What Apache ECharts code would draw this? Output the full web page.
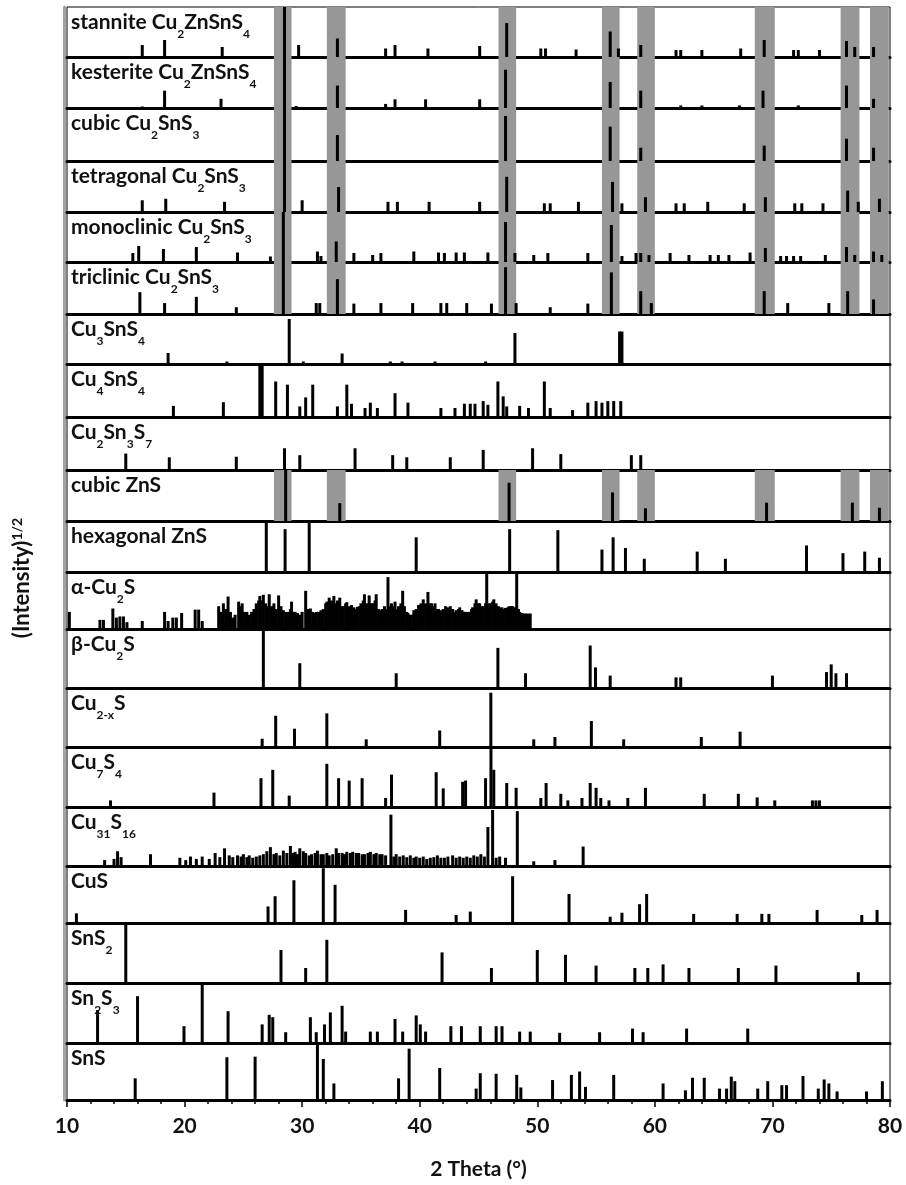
<!DOCTYPE html>
<html>
<head>
<meta charset="utf-8">
<script src="https://cdn.jsdelivr.net/npm/echarts@6/dist/echarts.min.js"></script>
<style>
  html, body { margin: 0; padding: 0; background: #fff; }
  #chart { width: 906px; height: 1185px; }
</style>
</head>
<body>
<div id="chart"></div>
<script>
// 2θ axis ticks
const xTicks = [10, 20, 30, 40, 50, 60, 70, 80];

// Phase names, top panel to bottom panel ({s|..} = subscript)
const phaseLabels = [
  '{t|stannite Cu}{s|2}{t|ZnSnS}{s|4}',
  '{t|kesterite Cu}{s|2}{t|ZnSnS}{s|4}',
  '{t|cubic Cu}{s|2}{t|SnS}{s|3}',
  '{t|tetragonal Cu}{s|2}{t|SnS}{s|3}',
  '{t|monoclinic Cu}{s|2}{t|SnS}{s|3}',
  '{t|triclinic Cu}{s|2}{t|SnS}{s|3}',
  '{t|Cu}{s|3}{t|SnS}{s|4}',
  '{t|Cu}{s|4}{t|SnS}{s|4}',
  '{t|Cu}{s|2}{t|Sn}{s|3}{t|S}{s|7}',
  '{t|cubic ZnS}',
  '{t|hexagonal ZnS}',
  '{t|α-Cu}{s|2}{t|S}',
  '{t|β-Cu}{s|2}{t|S}',
  '{t|Cu}{s|2-x}{t|S}',
  '{t|Cu}{s|7}{t|S}{s|4}',
  '{t|Cu}{s|31}{t|S}{s|16}',
  '{t|CuS}',
  '{t|SnS}{s|2}',
  '{t|Sn}{s|2}{t|S}{s|3}',
  '{t|SnS}'
];

// Reference peaks per phase: [2θ (°), relative (intensity)^1/2 in %]
const stannite = [[16.4,24],[18.3,34],[23.2,20],[28.5,100],[29.7,24],[33.0,37],[37.1,17],[37.9,24],[40.7,17],[45.1,22],[47.4,68],[50.3,17],[50.7,17],[53.3,15],[56.2,51],[56.9,17],[58.8,24],[61.8,14],[62.2,14],[64.0,14],[67.3,17],[69.3,34],[71.8,14],[72.2,14],[74.0,14],[76.3,32],[77.0,20],[78.6,20]];
const kesterite = [[16.4,3],[18.3,34],[23.1,18],[28.5,100],[29.5,4],[33.0,44],[37.1,8],[37.9,17],[40.5,17],[45.1,17],[47.3,75],[56.2,51],[58.8,34],[62.2,5],[64.0,5],[67.2,5],[69.2,34],[72.2,5],[76.3,44],[78.6,18]];
const cubicCu2SnS3 = [[28.5,100],[33.0,49],[47.3,85],[56.2,65],[58.8,25],[69.3,29],[76.3,42],[78.6,25]];
const tetragonalCu2SnS3 = [[16.4,23],[18.4,26],[23.4,20],[28.5,100],[30.0,23],[33.1,49],[37.3,20],[38.1,20],[40.8,20],[45.1,20],[47.4,69],[50.6,17],[51.1,17],[53.5,20],[56.4,59],[57.2,17],[59.2,29],[61.8,17],[62.5,17],[64.5,20],[67.6,17],[69.4,29],[71.9,17],[72.5,17],[74.3,17],[76.4,42],[77.3,20],[79.1,26]];
const monoclinicCu2SnS3 = [[15.6,18],[16.1,32],[18.2,26],[21.0,30],[24.5,19],[27.3,11],[28.4,100],[31.3,21],[31.6,12],[32.9,41],[34.4,18],[36.0,14],[36.7,18],[39.5,21],[41.6,19],[42.1,18],[43.1,19],[43.8,19],[45.8,19],[47.3,80],[48.1,18],[49.7,14],[50.9,18],[54.3,18],[56.3,74],[57.2,12],[58.4,18],[58.8,18],[59.5,14],[61.3,18],[62.9,14],[64.7,14],[65.4,14],[66.3,14],[68.1,19],[69.4,28],[70.7,12],[71.2,12],[71.8,12],[72.4,12],[74.5,14],[76.3,30],[77.0,14],[78.6,21],[79.3,14]];
const triclinicCu2SnS3 = [[16.2,42],[18.3,21],[21.0,33],[24.4,13],[28.4,100],[31.2,21],[31.5,21],[33.0,67],[34.4,20],[36.7,21],[39.4,21],[41.8,21],[42.3,21],[44.0,21],[46.1,20],[47.3,90],[48.2,21],[51.1,13],[54.3,20],[56.3,80],[58.8,44],[59.7,21],[69.3,44],[71.3,21],[74.8,21],[76.4,44],[78.6,28]];
const cu3SnS4 = [[18.6,22],[23.6,5],[28.9,90],[30.1,5],[33.4,21],[37.5,5],[38.5,5],[41.3,5],[45.6,5],[48.1,62],[57.0,65],[57.2,65]];
const cu4SnS4 = [[19.05,21],[23.3,28],[26.4,97],[26.6,97],[27.75,67],[28.75,61],[29.8,20],[30.3,37],[30.9,61],[33.0,20],[33.8,61],[34.2,25],[35.35,17],[35.8,27],[36.4,17],[37.9,45],[39.0,27],[41.8,17],[43.0,17],[43.8,25],[44.3,25],[44.7,25],[45.4,30],[45.8,23],[46.65,67],[47.1,39],[47.4,20],[48.5,21],[49.25,17],[50.6,67],[51.1,17],[53.0,13],[54.3,27],[55.0,30],[55.5,27],[56.0,30],[56.5,30],[57.1,30]];
const cu2Sn3S7 = [[15.0,31],[18.7,24],[24.4,25],[28.5,41],[29.8,28],[34.5,41],[37.7,28],[38.9,24],[42.6,24],[45.4,38],[49.6,41],[52.0,30],[58.0,28],[58.8,28]];
const cubicZnS = [[28.6,100],[33.2,35],[47.6,75],[56.4,56],[59.2,25],[69.5,36],[76.8,36],[79.1,26]];
const hexagonalZnS = [[26.95,100],[28.55,84],[30.6,100],[39.7,68],[47.65,84],[51.75,82],[55.5,44],[56.45,68],[57.5,47],[59.1,26],[63.6,40],[66.0,26],[72.9,52],[76.0,37],[77.85,40],[79.1,28]];
const alphaCu2S = [[10.2,30],[12.8,16],[13.1,16],[13.9,36],[14.2,20],[14.5,22],[14.8,22],[15.1,12],[16.4,14],[18.3,30],[18.6,14],[19.0,20],[19.3,20],[19.75,28],[20.9,34],[21.2,34],[21.5,14],
  [22.9,40],[23.1,30],[23.3,45],[23.5,35],[23.7,57],[23.9,30],[24.1,20],[24.3,25],[24.6,48],[24.8,40],[24.9,45],[25.1,30],[25.3,30],[25.5,25],[25.7,30],[25.9,35],[26.1,45],[26.3,50],[26.4,58],[26.6,50],[26.7,60],[26.9,45],[27.0,40],[27.2,61],[27.4,40],[27.6,45],[27.8,35],[28.0,59],[28.2,40],[28.4,33],[28.6,30],[28.8,30],[29.0,35],[29.1,48],[29.3,30],[29.4,30],[29.6,28],[29.8,25],[30.0,30],[30.3,67],[30.5,35],[30.7,36],[30.9,30],[31.1,28],[31.2,30],[31.4,30],[31.6,33],[31.8,35],[32.0,45],[32.1,48],[32.3,55],[32.5,50],[32.7,58],[32.9,45],[33.0,50],[33.2,55],[33.4,40],[33.5,40],[33.7,45],[33.8,47],[34.0,40],[34.2,42],[34.4,38],[34.5,35],[34.7,39],[34.9,40],[35.0,45],[35.2,50],[35.3,61],[35.5,45],[35.7,59],[35.9,45],[36.0,45],[36.2,50],[36.3,61],[36.5,35],[36.6,33],[36.8,35],[37.0,40],[37.1,35],[37.3,91],[37.5,40],[37.6,45],[37.8,40],[37.9,48],[38.1,35],[38.2,40],[38.4,45],[38.55,67],[38.7,40],[38.9,30],[39.0,28],[39.2,25],[39.4,25],[39.5,33],[39.7,35],[39.9,42],[40.1,45],[40.3,52],[40.5,45],[40.7,65],[40.9,45],[41.0,45],[41.2,40],[41.3,45],[41.5,35],[41.6,35],[41.8,33],[42.0,35],[42.2,40],[42.4,38],[42.6,40],[42.8,35],[42.9,30],[43.1,33],[43.3,35],[43.4,38],[43.6,33],[43.8,30],[43.9,30],[44.1,30],[44.2,30],[44.4,35],[44.5,38],[44.7,45],[44.8,52],[45.0,45],[45.1,45],[45.3,40],[45.4,40],[45.6,45],[45.7,100],[45.9,45],[46.0,45],[46.2,48],[46.3,52],[46.5,45],[46.7,40],[46.8,38],[47.0,38],[47.1,35],[47.3,37],[47.5,38],[47.6,40],[47.8,40],[47.9,40],[48.1,38],[48.25,97],[48.4,35],[48.5,30],[48.7,28],[48.8,27],[49.0,27],[49.1,27],[49.3,27],[49.4,27]];
const betaCu2S = [[26.7,100],[29.8,42],[38.0,25],[46.65,68],[49.0,25],[54.5,72],[54.95,35],[56.2,21],[61.8,18],[62.2,18],[70.0,21],[74.6,27],[75.0,40],[75.4,25],[76.3,25]];
const cu2xS = [[26.6,14],[27.75,53],[29.35,31],[32.1,57],[35.45,13],[41.7,28],[46.05,92],[49.7,13],[51.5,17],[54.6,44],[57.35,13],[63.95,17],[67.25,26]];
const cu7S4 = [[13.7,11],[22.5,24],[26.5,48],[27.5,62],[28.9,19],[32.1,72],[33.1,48],[34.0,44],[35.1,48],[37.1,15],[37.6,54],[41.4,58],[42.0,31],[43.65,42],[43.9,44],[45.6,48],[46.06,97],[46.3,62],[47.4,40],[48.2,32],[50.3,15],[50.75,40],[52.0,22],[52.6,11],[53.8,15],[54.5,40],[55.0,32],[55.4,15],[56.1,11],[57.7,15],[59.2,32],[64.2,22],[67.1,22],[68.7,16],[70.2,11],[73.4,11],[73.7,11],[74.0,11]];
const cu31S16 = [[13.2,10],[14.0,12],[14.3,25],[14.6,15],[17.1,20],[19.6,14],[20.1,10],[20.5,16],[21.0,12],[21.5,16],[22.1,12],[22.6,22],[23.0,15],[23.4,30],[23.8,18],[24.1,15],[24.5,18],[24.8,16],[25.0,20],[25.3,15],[25.5,18],[25.8,14],[26.1,16],[26.4,18],[26.7,20],[27.0,25],[27.3,32],[27.6,20],[27.8,22],[28.1,18],[28.4,26],[28.7,22],[29.0,34],[29.2,22],[29.4,24],[29.6,20],[29.8,30],[30.1,25],[30.3,22],[30.6,18],[30.8,20],[31.1,22],[31.3,26],[31.6,20],[31.8,20],[32.1,22],[32.3,18],[32.6,20],[32.9,30],[33.1,22],[33.4,22],[33.6,20],[33.8,24],[34.1,22],[34.3,24],[34.6,22],[34.8,22],[35.1,20],[35.3,20],[35.6,22],[35.8,24],[36.1,20],[36.3,22],[36.6,20],[36.8,20],[37.1,18],[37.55,87],[37.8,16],[38.0,20],[38.3,16],[38.6,18],[38.9,15],[39.2,18],[39.5,14],[39.7,16],[40.0,14],[40.3,16],[40.6,12],[40.9,14],[41.2,15],[41.5,18],[41.8,14],[42.1,14],[42.4,16],[42.8,18],[43.1,14],[43.4,16],[43.7,14],[44.0,16],[44.3,14],[44.6,18],[44.9,16],[45.2,20],[45.5,16],[45.8,66],[46.2,95],[46.5,14],[46.8,16],[47.3,14],[48.3,93],[49.7,8],[51.5,10],[53.9,33]];
const cuS = [[10.8,17],[27.1,29],[27.7,47],[29.3,75],[31.8,96],[32.8,67],[38.8,23],[43.1,14],[44.3,20],[47.9,82],[52.7,51],[56.2,11],[57.2,18],[58.7,33],[59.3,51],[63.3,16],[67.0,16],[69.1,16],[69.7,16],[73.8,23],[77.6,14],[78.9,23]];
const snS2 = [[15.0,100],[28.2,55],[30.3,25],[32.1,72],[41.9,51],[46.1,25],[50.0,55],[52.4,47],[55.0,29],[58.3,25],[59.4,25],[60.7,31],[62.9,25],[67.1,25],[70.3,29],[77.3,18]];
const sn2S3 = [[12.6,55],[16.0,78],[19.95,28],[21.5,100],[23.7,53],[26.6,31],[27.2,47],[27.5,43],[28.6,18],[30.7,43],[31.2,18],[31.9,31],[32.4,51],[33.4,62],[33.7,19],[35.8,19],[36.4,19],[37.9,40],[38.55,19],[39.7,46],[40.05,31],[40.5,19],[42.65,28],[43.55,28],[45.15,28],[46.5,28],[47.0,28],[48.5,19],[49.4,19],[51.9,17],[55.3,18],[58.1,24],[59.0,18],[62.7,24],[67.9,24]];
const snS = [[15.8,38],[23.6,75],[26.0,76],[31.3,100],[31.8,72],[32.7,29],[38.2,38],[39.1,90],[41.7,56],[44.8,20],[45.15,47],[46.5,46],[48.25,44],[48.6,22],[51.3,35],[52.9,44],[53.6,50],[54.1,23],[56.5,44],[60.7,29],[62.6,17],[63.2,39],[64.2,39],[65.5,20],[66.1,20],[66.5,41],[66.8,33],[68.75,20],[69.6,33],[70.8,26],[71.2,26],[72.6,42],[73.9,20],[74.4,36],[74.8,29],[75.5,15],[78.0,15],[79.35,33]];

const peakSets = [stannite, kesterite, cubicCu2SnS3, tetragonalCu2SnS3, monoclinicCu2SnS3, triclinicCu2SnS3,
  cu3SnS4, cu4SnS4, cu2Sn3S7, cubicZnS, hexagonalZnS, alphaCu2S, betaCu2S, cu2xS, cu7S4, cu31S16, cuS, snS2, sn2S3, snS];

// Shaded 2θ windows of the main kesterite reflections: [from, to]
const kesteriteWindows = [[27.6,29.1],[32.1,33.7],[46.7,48.2],[55.5,57.0],[58.5,60.0],[68.5,70.2],[75.8,77.4],[78.3,79.9]];
// Panels that show the shaded windows
const shadedPanels = [0, 1, 2, 3, 4, 5, 9];

// ---- layout (pixels) ----
const plotLeft = 67, plotRight = 16, firstTop = 7;
const panelBottoms = [57,108,161,212,262,314,364,417,470,521,572,629,688,747,807,866,923,983,1043,1100];
const FONT = 'Lato, "Open Sans", "DejaVu Sans", sans-serif';

const chart = echarts.init(document.getElementById('chart'), null, { renderer: 'canvas' });

function renderStick(params, api) {
  const base = api.coord([api.value(0), 0]);
  const top = api.coord([api.value(0), api.value(1)]);
  return {
    type: 'rect',
    shape: { x: base[0] - 1.5, y: top[1], width: 3, height: base[1] - top[1] },
    style: { fill: '#000' }
  };
}

function renderWindow(params, api) {
  const a = api.coord([api.value(0), 0]);
  const b = api.coord([api.value(1), 100]);
  return {
    type: 'rect',
    shape: { x: a[0], y: b[1], width: b[0] - a[0], height: a[1] - b[1] },
    style: { fill: '#979797' }
  };
}

const labelRich = {
  t: { fontFamily: FONT, fontWeight: 'bold', fontSize: 21, lineHeight: 22, color: '#111', verticalAlign: 'top' },
  s: { fontFamily: FONT, fontWeight: 'bold', fontSize: 12, lineHeight: 12, color: '#111', verticalAlign: 'top', padding: [16, 0, 0, 0] }
};

const grids = [], xAxes = [], yAxes = [], series = [], titles = [];
const last = panelBottoms.length - 1;

panelBottoms.forEach((bottom, i) => {
  const top = i === 0 ? firstTop : panelBottoms[i - 1];
  grids.push({
    left: plotLeft, right: plotRight, top: top, height: bottom - top,
    show: true, borderColor: '#000', borderWidth: 1, backgroundColor: 'transparent'
  });
  const isBottom = i === last;
  xAxes.push({
    type: 'value', gridIndex: i,
    min: xTicks[0], max: xTicks[xTicks.length - 1], interval: xTicks[1] - xTicks[0],
    axisLine: { show: true, onZero: false, lineStyle: { color: '#000', width: 3 } },
    axisTick: { show: isBottom, length: 7, lineStyle: { color: '#000', width: 1.5 } },
    minorTick: { show: isBottom, splitNumber: 5, length: 4, lineStyle: { color: '#000', width: 1.5 } },
    axisLabel: {
      show: isBottom, margin: 16, color: '#111', fontFamily: FONT, fontWeight: 'bold', fontSize: 21
    },
    splitLine: { show: false },
    name: isBottom ? '2 Theta (°)' : '',
    nameLocation: 'middle', nameGap: 59,
    nameTextStyle: { color: '#111', fontFamily: FONT, fontWeight: 'bold', fontSize: 21 }
  });
  yAxes.push({
    type: 'value', gridIndex: i, min: 0, max: 100,
    axisLine: { show: true, onZero: false, lineStyle: { color: '#a3a3a3', width: 3 } },
    offset: 3,
    axisTick: { show: false }, axisLabel: { show: false }, splitLine: { show: false }
  });
  if (shadedPanels.includes(i)) {
    series.push({
      type: 'custom', xAxisIndex: i, yAxisIndex: i, z: 1, silent: true, clip: true,
      renderItem: renderWindow, data: kesteriteWindows
    });
  }
  series.push({
    type: 'custom', xAxisIndex: i, yAxisIndex: i, z: 2, silent: true, clip: true,
    renderItem: renderStick, data: peakSets[i]
  });
  titles.push({
    text: phaseLabels[i], left: 71, top: top + 5, padding: 0,
    textStyle: { rich: labelRich }
  });
});

chart.setOption({
  animation: false,
  backgroundColor: '#fff',
  title: titles,
  grid: grids,
  xAxis: xAxes,
  yAxis: yAxes,
  series: series,
  graphic: [{
    type: 'text', x: 23, y: 578, rotation: Math.PI / 2,
    style: {
      text: '{a|(Intensity)}{b|1/2}',
      align: 'center', verticalAlign: 'middle',
      rich: {
        a: { fontFamily: FONT, fontWeight: 'bold', fontSize: 22, lineHeight: 25, fill: '#111', verticalAlign: 'top' },
        b: { fontFamily: FONT, fontWeight: 'bold', fontSize: 14, lineHeight: 14, fill: '#111', verticalAlign: 'top' }
      }
    }
  }]
});
</script>
</body>
</html>
